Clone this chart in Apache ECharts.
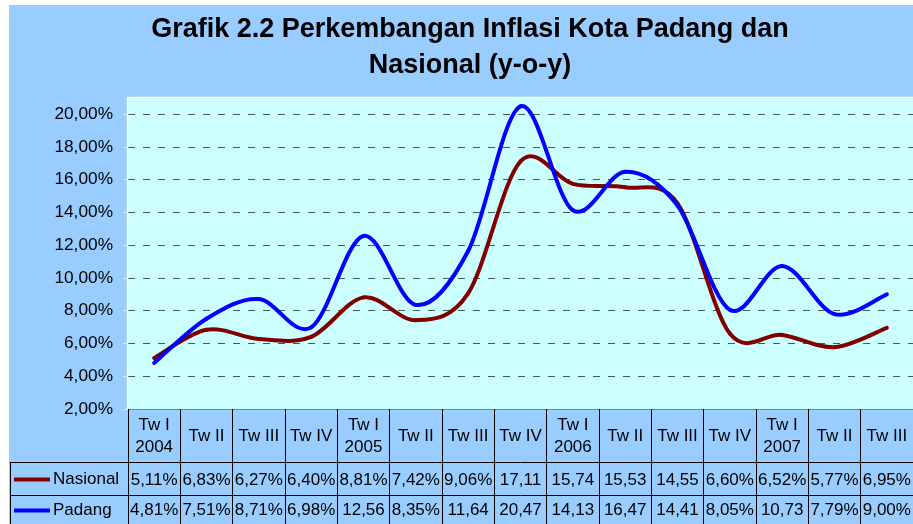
<!DOCTYPE html>
<html>
<head>
<meta charset="utf-8">
<script src="https://cdn.jsdelivr.net/npm/echarts@6/dist/echarts.min.js"></script>
<style>html,body{margin:0;padding:0;background:#fff}#c{width:913px;height:524px}</style>
</head>
<body>
<div id="c"></div>
<script>
var categories = ['Tw I\n2004','Tw II','Tw III','Tw IV','Tw I\n2005','Tw II','Tw III','Tw IV','Tw I\n2006','Tw II','Tw III','Tw IV','Tw I\n2007','Tw II','Tw III'];
var nasional = [5.11,6.83,6.27,6.40,8.81,7.42,9.06,17.11,15.74,15.53,14.55,6.60,6.52,5.77,6.95];
var padang = [4.81,7.51,8.71,6.98,12.56,8.35,11.64,20.47,14.13,16.47,14.41,8.05,10.73,7.79,9.00];
var seriesNames = ['Nasional','Padang'];
var titleText = 'Grafik 2.2 Perkembangan Inflasi Kota Padang dan\nNasional (y-o-y)';

var FONT = '"Liberation Sans", Arial, sans-serif';
function cell(v){ var s = v.toFixed(2).replace('.', ','); return v >= 10 ? s : s + '%'; }

// Excel-like smoothed line: each data item draws the cubic segment to the next point
function smoothRender(arr, color){
  return function(params, api){
    var i = params.dataIndex;
    if (i >= arr.length - 1) return null;
    function p(k){ k = Math.max(0, Math.min(arr.length - 1, k)); return api.coord([k, arr[k]]); }
    var p0 = p(i - 1), p1 = p(i), p2 = p(i + 1), p3 = p(i + 2);
    var t = 1 / 6;
    return {
      type: 'bezierCurve',
      shape: {
        x1: p1[0], y1: p1[1], x2: p2[0], y2: p2[1],
        cpx1: p1[0] + (p2[0] - p0[0]) * t, cpy1: p1[1] + (p2[1] - p0[1]) * t,
        cpx2: p2[0] - (p3[0] - p1[0]) * t, cpy2: p2[1] - (p3[1] - p1[1]) * t
      },
      style: {stroke: color, lineWidth: 4, fill: null, lineCap: 'round'}
    };
  };
}

var chart = echarts.init(document.getElementById('c'), null, {renderer:'canvas'});
var gl = 128, gTop = 114, gBottomY = 409;
var option = {
  backgroundColor: '#ffffff',
  animation: false,
  grid: {left: gl, right: 0, top: gTop, bottom: 524 - gBottomY, outerBoundsMode: 'none', containLabel: false},
  graphic: [
    {type:'rect', z:-100, shape:{x:9, y:5, width:904, height:519}, style:{fill:'#99CCFF'}},
    {type:'rect', z:-90, shape:{x:gl, y:97, width:913-gl, height:gBottomY-97}, style:{fill:'#CCFFFF'}},
    {type:'polyline', z:50, shape:{points:[[gl-0.5,gBottomY],[gl-0.5,97.5],[913,97.5]]}, style:{stroke:'#ffffff', lineWidth:1.5, fill:null}},
    {type:'line', z:50, shape:{x1:10.5, y1:462.5, x2:10.5, y2:524}, style:{stroke:'#000', lineWidth:1}},
    {type:'line', z:50, shape:{x1:10, y1:462.5, x2:gl, y2:462.5}, style:{stroke:'#000', lineWidth:1}},
    {type:'line', z:50, shape:{x1:10, y1:495.5, x2:gl, y2:495.5}, style:{stroke:'#000', lineWidth:1}},
    {type:'text', z:50, style:{text:titleText, x:470, y:48, align:'center', verticalAlign:'middle', font:'bold 27px ' + FONT, lineHeight:36, fill:'#000'}}
  ],
  legend: [
    {data:[seriesNames[0]], left:14, top:471, padding:0, icon:'rect', itemWidth:36, itemHeight:4, itemGap:0, textStyle:{fontSize:17, fontFamily:FONT, color:'#000', padding:[0,0,0,-2]}},
    {data:[seriesNames[1]], left:14, top:502, padding:0, icon:'rect', itemWidth:36, itemHeight:4, itemGap:0, textStyle:{fontSize:17, fontFamily:FONT, color:'#000', padding:[0,0,0,-2]}}
  ],
  xAxis: [
    {type:'category', data:categories, boundaryGap:true, position:'bottom',
     axisLine:{show:true, lineStyle:{color:'#808080', width:1}},
     axisTick:{show:true, interval:0, length:116, lineStyle:{color:'#000', width:1}},
     axisLabel:{interval:0, margin:27, verticalAlign:'middle', fontSize:17, fontFamily:FONT, color:'#000', lineHeight:22},
     splitLine:{show:false}},
    {type:'category', data:categories, boundaryGap:true, position:'bottom', offset:53,
     axisLine:{show:true, lineStyle:{color:'#000', width:1}},
     axisTick:{show:false},
     axisLabel:{interval:0, margin:18, verticalAlign:'middle', fontSize:17, fontFamily:FONT, color:'#000',
       formatter:function(v, i){ return cell(nasional[i]); }}},
    {type:'category', data:categories, boundaryGap:true, position:'bottom', offset:86,
     axisLine:{show:true, lineStyle:{color:'#000', width:1}},
     axisTick:{show:false},
     axisLabel:{interval:0, margin:15, verticalAlign:'middle', fontSize:17, fontFamily:FONT, color:'#000',
       formatter:function(v, i){ return cell(padang[i]); }}}
  ],
  yAxis: {type:'value', min:2, max:20, interval:2,
    axisLine:{show:false},
    axisTick:{show:true, length:5, lineStyle:{color:'#dde6ee', width:1}},
    axisLabel:{margin:15, fontSize:17.3, fontFamily:FONT, color:'#000',
      formatter:function(v){ return v.toFixed(2).replace('.', ',') + '%'; }},
    splitLine:{show:true, lineStyle:{color:'#4a5858', width:1, type:[7,8]}}
  },
  series: [
    {name:seriesNames[0], type:'custom', data:nasional, renderItem:smoothRender(nasional, '#800000'),
     itemStyle:{color:'#800000'}, z:3, clip:false},
    {name:seriesNames[1], type:'custom', data:padang, renderItem:smoothRender(padang, '#0000FF'),
     itemStyle:{color:'#0000FF'}, z:4, clip:false}
  ]
};
chart.setOption(option);
</script>
</body>
</html>
